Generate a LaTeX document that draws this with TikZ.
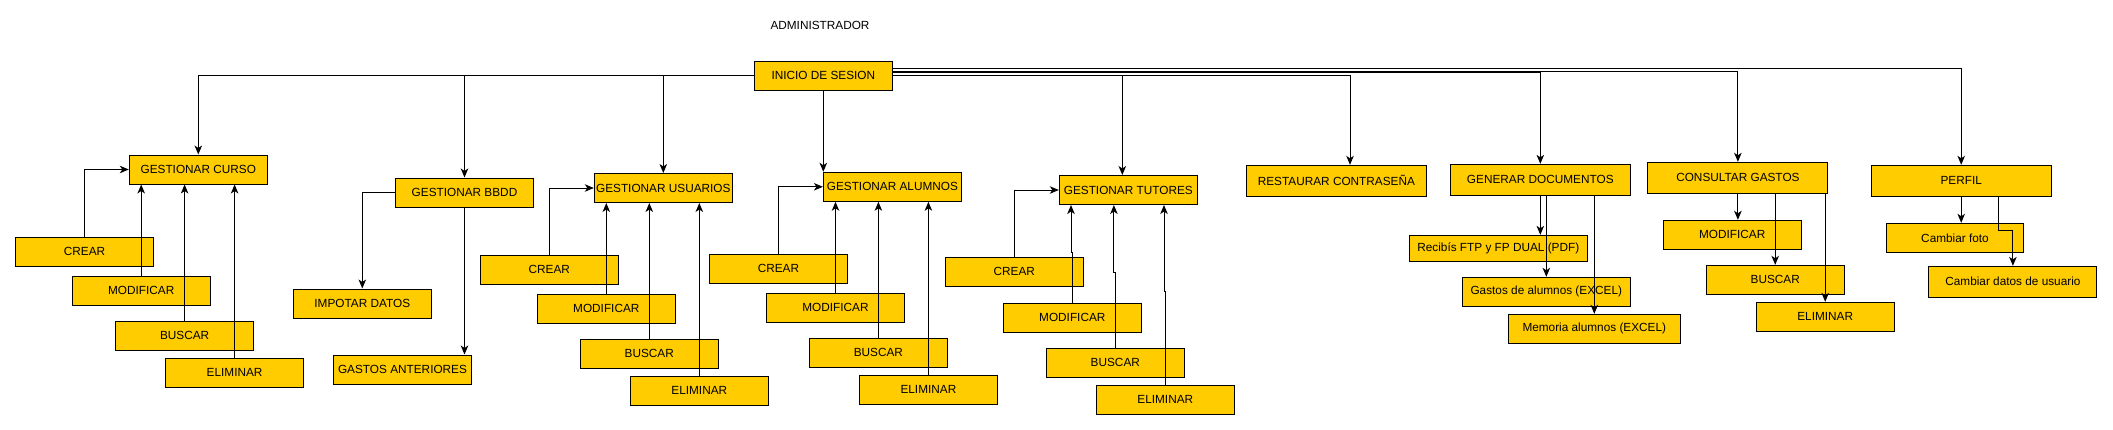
\documentclass[tikz,border=0pt]{standalone}
\usepackage{fontspec}
\setmainfont{Liberation Sans}
\usetikzlibrary{arrows.meta,calc}
\definecolor{boxfill}{HTML}{FFCC00}
\begin{document}
\begin{tikzpicture}[x=1pt,y=-1pt,
  font=\fontsize{11.8}{14}\selectfont,
  bx/.style={draw=black,fill=boxfill,line width=1pt,minimum width=138pt,minimum height=29pt,inner sep=0pt},
  wbx/.style={bx,minimum width=180pt,minimum height=31pt},
  arr/.style={draw=black,line width=1pt,-{Stealth[length=9pt,width=7.5pt,inset=2.5pt]}}
]
\useasboundingbox[fill=white] (0,0) rectangle (2113,429);

\node (adm) at (820,25.5) {ADMINISTRADOR};
\node[bx] (ini) at (823.3,75.8) {INICIO DE SESION};

% Gestionar curso
\node[bx] (gc) at (198.3,169.5) {GESTIONAR CURSO};
\node[bx] (cr1) at (84.6,251.5) {CREAR};
\node[bx] (mo1) at (141.2,290.5) {MODIFICAR};
\node[bx] (bu1) at (184.6,335.5) {BUSCAR};
\node[bx] (el1) at (234.6,372.5) {ELIMINAR};

% Gestionar BBDD
\node[bx] (gb) at (464.5,192.5) {GESTIONAR BBDD};
\node[bx] (imp) at (362.3,303.5) {IMPOTAR DATOS};
\node[bx] (gan) at (402.5,369.5) {GASTOS ANTERIORES};

% Gestionar usuarios
\node[bx] (gu) at (663.3,188) {GESTIONAR USUARIOS};
\node[bx] (cr2) at (549.3,269.8) {CREAR};
\node[bx] (mo2) at (606.3,308.8) {MODIFICAR};
\node[bx] (bu2) at (649.3,353.8) {BUSCAR};
\node[bx] (el2) at (699.3,390.8) {ELIMINAR};

% Gestionar alumnos
\node[bx] (ga) at (892.4,186.8) {GESTIONAR ALUMNOS};
\node[bx] (cr3) at (778.4,268.8) {CREAR};
\node[bx] (mo3) at (835.5,307.8) {MODIFICAR};
\node[bx] (bu3) at (878.4,352.8) {BUSCAR};
\node[bx] (el3) at (928.4,389.8) {ELIMINAR};

% Gestionar tutores
\node[bx] (gt) at (1128.3,190) {GESTIONAR TUTORES};
\node[bx] (cr4) at (1014.3,271.8) {CREAR};
\node[bx] (mo4) at (1072.3,317.8) {MODIFICAR};
\node[bx] (bu4) at (1115.3,362.8) {BUSCAR};
\node[bx] (el4) at (1165.3,399.8) {ELIMINAR};

% Restaurar
\node[wbx] (rc) at (1336.4,180.8) {RESTAURAR CONTRASEÑA\hspace{14pt}};

% Generar documentos
\node[wbx,minimum height=30.7pt] (gd) at (1540.3,179.7) {GENERAR DOCUMENTOS\hspace{14pt}};
\node[bx,minimum width=178pt,minimum height=25.7pt] (rec) at (1498.3,248.2) {Recibís FTP y FP DUAL (PDF)};
\node[bx,minimum width=168pt] (gas) at (1546.3,291.8) {Gastos de alumnos (EXCEL)};
\node[bx,minimum width=172pt] (mem) at (1594.3,328.8) {Memoria alumnos (EXCEL)\hspace{15pt}};

% Consultar gastos
\node[wbx] (cg) at (1737.9,177.8) {CONSULTAR GASTOS\hspace{12pt}};
\node[bx] (mo5) at (1732.2,234.8) {MODIFICAR};
\node[bx] (bu5) at (1775.2,279.8) {BUSCAR};
\node[bx] (el5) at (1825.2,316.8) {ELIMINAR};

% Perfil
\node[wbx] (pf) at (1961.2,180.8) {PERFIL\hspace{12pt}};
\node[bx,minimum width=137pt] (cf) at (1955,237.8) {Cambiar foto};
\node[bx,minimum width=168pt,minimum height=30.7pt] (cd) at (2012.9,281.7) {Cambiar datos de usuario};

% ---- connectors from INICIO DE SESION
\draw[arr] (ini.west) -| (gc.north);
\draw[arr] (ini.west) -| (gb.north);
\draw[arr] (ini.west) -| (gu.north);
\draw[arr] (ini.south) -- (ini.south |- ga.north);
\draw[arr] (ini.east) -| ([xshift=-6pt]gt.north);
\draw[arr] (ini.east) -| ([xshift=13.6pt]rc.north);
\draw[arr] ([yshift=3.5pt]ini.east) -| (gd.north);
\draw[arr] ([yshift=4.5pt]ini.east) -| (cg.north);
\draw[arr] ([yshift=7.5pt]ini.east) -| (pf.north);

% ---- Gestionar curso
\draw[arr] (cr1.north) |- (gc.west);
\draw[arr] (mo1.north) -- (mo1.north |- gc.south);
\draw[arr] (bu1.north) -- (bu1.north |- gc.south);
\draw[arr] (el1.north) -- (el1.north |- gc.south);

% ---- Gestionar BBDD
\draw[arr] (gb.west) -| (imp.north);
\draw[arr] (gb.south) -- (gb.south |- gan.north);

% ---- Gestionar usuarios
\draw[arr] (cr2.north) |- (gu.west);
\draw[arr] (mo2.north) -- (mo2.north |- gu.south);
\draw[arr] (bu2.north) -- (bu2.north |- gu.south);
\draw[arr] (el2.north) -- (el2.north |- gu.south);

% ---- Gestionar alumnos
\draw[arr] (cr3.north) |- (ga.west);
\draw[arr] (mo3.north) -- (mo3.north |- ga.south);
\draw[arr] (bu3.north) -- (bu3.north |- ga.south);
\draw[arr] (el3.north) -- (el3.north |- ga.south);

% ---- Gestionar tutores
\draw[arr] (cr4.north) |- (gt.west);
\draw[arr] (mo4.north) -- ++(0,-50) -- ++(-1.3,0) coordinate (j1) -- (j1 |- gt.south);
\draw[arr] (bu4.north) -- ++(0,-75.6) -- ++(-1.4,0) coordinate (j2) -- (j2 |- gt.south);
\draw[arr] (el4.north) -- ++(0,-93.6) -- ++(-1.3,0) coordinate (j3) -- (j3 |- gt.south);

% ---- Generar documentos
\draw[arr] (gd.south) -- (gd.south |- rec.north);
\draw[arr] (gas.north |- gd.south) -- (gas.north);
\draw[arr] (mem.north |- gd.south) -- (mem.north);

% ---- Consultar gastos
\draw[arr] (cg.south) -- (cg.south |- mo5.north);
\draw[arr] (bu5.north |- cg.south) -- (bu5.north);
\draw[arr] (el5.north |- cg.south) -- (el5.north);

% ---- Perfil
\draw[arr] (pf.south) -- (pf.south |- cf.north);
\draw[arr] ([xshift=36.8pt]pf.south) -- ++(0,33.7) -| (cd.north);
\end{tikzpicture}
\end{document}
